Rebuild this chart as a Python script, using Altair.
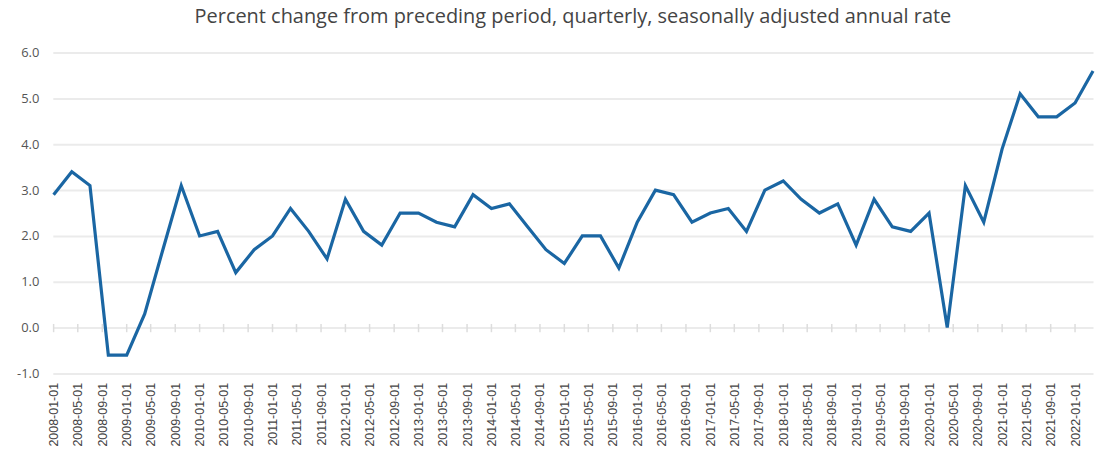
import altair as alt
import pandas as pd

quarters = pd.date_range("2008-01-01", "2022-04-01", freq="QS").strftime("%Y-%m-%d").tolist()
values = [2.9, 3.4, 3.1, -0.6, -0.6, 0.3, 1.7, 3.1, 2.0, 2.1,
          1.2, 1.7, 2.0, 2.6, 2.1, 1.5, 2.8, 2.1, 1.8, 2.5,
          2.5, 2.3, 2.2, 2.9, 2.6, 2.7, 2.2, 1.7, 1.4, 2.0,
          2.0, 1.3, 2.3, 3.0, 2.9, 2.3, 2.5, 2.6, 2.1, 3.0,
          3.2, 2.8, 2.5, 2.7, 1.8, 2.8, 2.2, 2.1, 2.5, 0.0,
          3.1, 2.3, 3.9, 5.1, 4.6, 4.6, 4.9, 5.6]
tick_dates = pd.date_range("2008-01-01", "2022-01-01", freq="4MS").strftime("%Y-%m-%d").tolist()
y_ticks = [-1, 0, 1, 2, 3, 4, 5, 6]
title_text = "Percent change from preceding period, quarterly, seasonally adjusted annual rate"

df = pd.DataFrame({"date": quarters, "value": values})
ticks_df = pd.DataFrame({"date": tick_dates, "lo": [-0.1] * len(tick_dates), "hi": [0.08] * len(tick_dates)})

x_scale = alt.Scale(domain=["2007-12-28", "2022-04-01"])
y_scale = alt.Scale(domain=[-1, 6], nice=False)

x_axis = alt.Axis(
    values=[pd.Timestamp(d).isoformat() for d in tick_dates],
    format="%Y-%m-%d", labelAngle=-90, title=None, grid=False, domain=False,
    ticks=False, labelPadding=9, labelFont="Liberation Sans", labelFontSize=12.5,
    labelColor="#444444", labelOverlap=False, labelFlush=False, labelBound=False,
    labelSeparation=0,
)
y_axis = alt.Axis(
    values=y_ticks, title=None, domain=False, ticks=False,
    labelExpr="datum.value < 0 ? '-' + format(abs(datum.value), '.1f') : format(datum.value, '.1f')",
    labelPadding=14, labelFont="Open Sans", labelFontSize=13, labelColor="#555555",
    gridColor="#ebebeb", gridWidth=2,
)

line = alt.Chart(df).mark_line(color="#1a66a3", strokeWidth=3.2, strokeJoin="miter").encode(
    x=alt.X("date:T", scale=x_scale, axis=x_axis),
    y=alt.Y("value:Q", scale=y_scale, axis=y_axis),
)

tick_rules = alt.Chart(ticks_df).mark_rule(color="#dddddd", strokeWidth=1.5).encode(
    x=alt.X("date:T", scale=x_scale, axis=x_axis),
    y=alt.Y("lo:Q", scale=y_scale, axis=y_axis),
    y2="hi:Q",
)

chart = alt.layer(line, tick_rules).properties(
    width=1044, height=322,
    title=alt.TitleParams(title_text, font="Open Sans", fontSize=20, fontWeight="normal",
                          color="#444444", anchor="middle", offset=20),
    padding={"left": 16, "right": 0, "top": 6, "bottom": 0},
).configure_view(stroke=None)

chart.save("out.html", embed_options={"renderer": "svg", "actions": False})
